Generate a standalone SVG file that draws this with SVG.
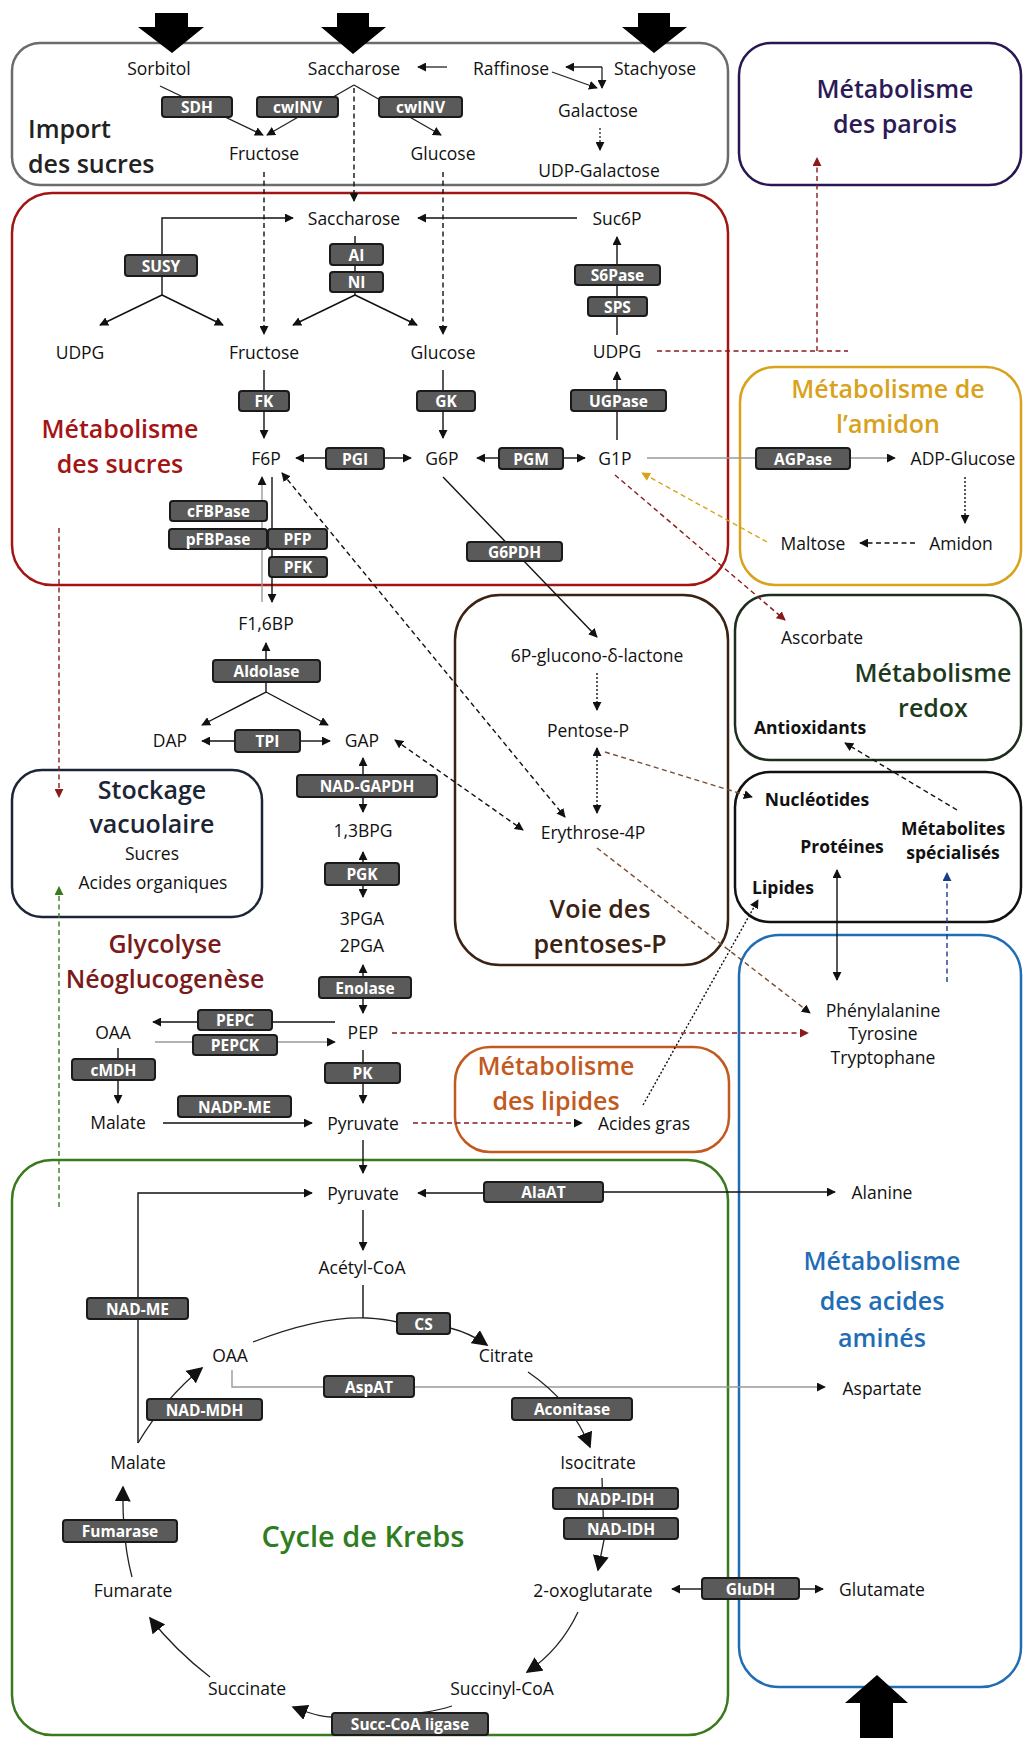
<svg xmlns="http://www.w3.org/2000/svg" width="1023" height="1738" viewBox="0 0 1023 1738">
<style>
text{font-family:"Open Sans","Liberation Sans",sans-serif;text-anchor:middle;dominant-baseline:central}
.t{font-size:17.5px;fill:#111}
.tb{font-size:17.5px;fill:#111;font-weight:700}
.h{font-size:25px;font-weight:600}
.et{font-size:15.5px;font-weight:700;fill:#fff}
.eb{fill:#5a5a5a;stroke:#1a1a1a;stroke-width:2}
.box{fill:none;stroke-width:2.5}
.c{fill:none;stroke:#111;stroke-width:1.4}
.k{fill:none;stroke:#222;stroke-width:1.3}
.dash{stroke-dasharray:5 3.5}
.dot{stroke-dasharray:2 2}
.red{stroke:#8b1a1a}
.gold{stroke:#d9a21b}
.brown{stroke:#7a4a2e}
.green{stroke:#3a7a1e}
.blue{stroke:#1a3a8a}
.gray{stroke:#9a9a9a}
</style>
<defs>
<marker id="a" viewBox="0 0 10 10" refX="9" refY="5" markerWidth="9" markerHeight="9" markerUnits="userSpaceOnUse" orient="auto-start-reverse"><path d="M0,0L10,5L0,10z" fill="#111"/></marker>
<marker id="ak" viewBox="0 0 10 10" refX="9" refY="5" markerWidth="16" markerHeight="16" markerUnits="userSpaceOnUse" orient="auto-start-reverse"><path d="M0,0L10,5L0,10z" fill="#111"/></marker>
<marker id="ar" viewBox="0 0 10 10" refX="9" refY="5" markerWidth="9" markerHeight="9" markerUnits="userSpaceOnUse" orient="auto-start-reverse"><path d="M0,0L10,5L0,10z" fill="#8b1a1a"/></marker>
<marker id="ag" viewBox="0 0 10 10" refX="9" refY="5" markerWidth="9" markerHeight="9" markerUnits="userSpaceOnUse" orient="auto-start-reverse"><path d="M0,0L10,5L0,10z" fill="#d9a21b"/></marker>
<marker id="agr" viewBox="0 0 10 10" refX="9" refY="5" markerWidth="9" markerHeight="9" markerUnits="userSpaceOnUse" orient="auto-start-reverse"><path d="M0,0L10,5L0,10z" fill="#3a7a1e"/></marker>
<marker id="abl" viewBox="0 0 10 10" refX="9" refY="5" markerWidth="9" markerHeight="9" markerUnits="userSpaceOnUse" orient="auto-start-reverse"><path d="M0,0L10,5L0,10z" fill="#1a3a8a"/></marker>
<linearGradient id="eg" x1="0" y1="0" x2="0" y2="1"><stop offset="0" stop-color="#4a4a4a"/><stop offset="0.5" stop-color="#6a6a6a"/><stop offset="1" stop-color="#4a4a4a"/></linearGradient>
</defs>
<rect width="1023" height="1738" fill="#fff"/>

<g id="regions">
<rect id="r-import" class="box" x="12" y="43" width="716" height="142" rx="28" stroke="#6b6b6b" stroke-width="2"/>
<rect id="r-parois" class="box" x="739" y="43" width="282" height="142" rx="32" stroke="#2a1650"/>
<rect id="r-sucres" class="box" x="12" y="193" width="716" height="392" rx="40" stroke="#a31515"/>
<rect id="r-amidon" class="box" x="740" y="367" width="281" height="218" rx="35" stroke="#d8a21c"/>
<rect id="r-redox" class="box" x="735" y="595" width="286" height="165" rx="35" stroke="#1e2e1e"/>
<rect id="r-autres" class="box" x="735" y="772" width="286" height="150" rx="35" stroke="#111" stroke-width="3"/>
<rect id="r-pentoses" class="box" x="455" y="595" width="273" height="370" rx="45" stroke="#3b2212"/>
<rect id="r-lipides" class="box" x="455" y="1047" width="274" height="105" rx="35" stroke="#c25a1f"/>
<rect id="r-stockage" class="box" x="12" y="770" width="250" height="147" rx="30" stroke="#1b2535"/>
<rect id="r-aa" class="box" x="739" y="935" width="282" height="752" rx="40" stroke="#1f6db5"/>
<rect id="r-krebs" class="box" x="12" y="1160" width="716" height="575" rx="40" stroke="#3a7a1e"/>
</g>

<g id="inputs" fill="#000">
<polygon points="155,13 188,13 188,27 204,27 172,53 138,27 155,27"/>
<polygon points="337,13 369,13 369,27 386,27 353,54 321,27 337,27"/>
<polygon points="638,13 670,13 670,27 687,27 654,53 622,27 638,27"/>
<polygon points="860,1738 893,1738 893,1703 908,1703 877,1675 845,1703 860,1703"/>
</g>

<g id="connectors">
<path class="k" d="M160,86L263,135" marker-end="url(#a)"/>
<path class="k" d="M354,85L267,135" marker-end="url(#a)"/>
<path class="k" d="M354,85L441,135" marker-end="url(#a)"/>
<path class="k" d="M447,67L418,67" marker-end="url(#a)"/>
<path class="k" d="M602,67L566,67" marker-end="url(#a)"/>
<path class="k" d="M602,67L602,88" marker-end="url(#a)"/>
<path class="k" d="M552,72L597,88" marker-end="url(#a)"/>
<path class="k dot" d="M600,128L600,150" marker-end="url(#a)"/>
<path class="c dash" d="M354,88L354,201" marker-end="url(#a)"/>
<path class="c dash" d="M264,172L264,334" marker-end="url(#a)"/>
<path class="c dash" d="M443,172L443,334" marker-end="url(#a)"/>
<path class="c" d="M162,295L162,218L293,218" marker-end="url(#a)"/>
<path class="c" d="M162,295L100,325" marker-end="url(#a)"/>
<path class="c" d="M162,295L223,325" marker-end="url(#a)"/>
<path class="c" d="M577,218L418,218" marker-end="url(#a)"/>
<path class="c" d="M355,236L355,295"/>
<path class="c" d="M355,295L293,325" marker-end="url(#a)"/>
<path class="c" d="M355,295L417,325" marker-end="url(#a)"/>
<path class="c" d="M264,370L264,438" marker-end="url(#a)"/>
<path class="c" d="M443,370L443,438" marker-end="url(#a)"/>
<path class="c" d="M326,458L296,458" marker-end="url(#a)"/>
<path class="c" d="M384,458L411,458" marker-end="url(#a)"/>
<path class="c" d="M499,458L477,458" marker-end="url(#a)"/>
<path class="c" d="M563,458L585,458" marker-end="url(#a)"/>
<path class="c" d="M617,440L617,372" marker-end="url(#a)"/>
<path class="c" d="M617,335L617,237" marker-end="url(#a)"/>
<path class="c dash red" d="M657,351L848,351"/>
<path class="c dash red" d="M817,351L817,158" marker-end="url(#ar)"/>
<path class="c gray" stroke-width="2" d="M647,458L895,458" marker-end="url(#a)"/>
<path class="c dot" d="M965,477L965,523" marker-end="url(#a)"/>
<path class="c dash" d="M915,543L860,543" marker-end="url(#a)"/>
<path class="c dash gold" stroke-width="1.8" d="M767,542L642,473" marker-end="url(#ag)"/>
<path class="c dash red" stroke-width="1.8" d="M615,475L785,620" marker-end="url(#ar)"/>
<path class="c" stroke-width="1.6" d="M443,477L597,637" marker-end="url(#a)"/>
<path class="c dash" stroke-width="1.8" d="M282,473L565,817" marker-start="url(#a)" marker-end="url(#a)"/>
<path class="c dash" stroke-width="1.8" d="M395,740L523,830" marker-start="url(#a)" marker-end="url(#a)"/>
<path class="c dot" d="M597,673L597,710" marker-end="url(#a)"/>
<path class="c dot" d="M597,748L597,813" marker-start="url(#a)" marker-end="url(#a)"/>
<path class="c dash brown" stroke-width="1.8" d="M605,752L752,797" marker-end="url(#a)"/>
<path class="c dash brown" stroke-width="1.8" d="M597,848L810,1013" marker-end="url(#a)"/>
<path class="c dash" stroke-width="1.6" d="M957,810L845,743" marker-end="url(#a)"/>
<path class="c" stroke-width="2" d="M837,870L837,980" marker-start="url(#a)" marker-end="url(#a)"/>
<path class="c dash blue" stroke-width="1.6" d="M947,982L947,873" marker-end="url(#abl)"/>
<path class="c dot" stroke="#666" stroke-width="1.2" d="M643,1105L758,900" marker-end="url(#a)"/>
<path class="c dash red" stroke-width="1.8" d="M392,1033L808,1033" marker-end="url(#ar)"/>
<path class="c dash red" stroke-width="1.8" d="M413,1123L582,1123" marker-end="url(#a)"/>
<path class="c" d="M272,477L272,602" marker-end="url(#a)"/>
<path class="c gray" stroke-width="2" d="M262,602L262,477" marker-end="url(#a)"/>
<path class="c" d="M266,660L266,643" marker-end="url(#a)"/>
<path class="c" d="M266,682L266,692L202,725" marker-end="url(#a)"/>
<path class="c" d="M266,692L328,725" marker-end="url(#a)"/>
<path class="c" d="M235,741L202,741" marker-end="url(#a)"/>
<path class="c" d="M300,741L330,741" marker-end="url(#a)"/>
<path class="c" d="M363,775L363,758" marker-end="url(#a)"/>
<path class="c" d="M363,797L363,812" marker-end="url(#a)"/>
<path class="c" d="M363,863L363,852" marker-end="url(#a)"/>
<path class="c" d="M363,885L363,897" marker-end="url(#a)"/>
<path class="c" d="M363,977L363,965" marker-end="url(#a)"/>
<path class="c" d="M363,998L363,1013" marker-end="url(#a)"/>
<path class="c" d="M335,1022L153,1022" marker-end="url(#a)"/>
<path class="c gray" stroke-width="1.6" d="M155,1042L335,1042" marker-end="url(#a)"/>
<path class="c" d="M118,1048L118,1103" marker-end="url(#a)"/>
<path class="c" d="M163,1123L312,1123" marker-end="url(#a)"/>
<path class="c" d="M363,1050L363,1103" marker-end="url(#a)"/>
<path class="c" d="M363,1140L363,1173" marker-end="url(#a)"/>
<path class="c" d="M363,1210L363,1250" marker-end="url(#a)"/>
<path class="c" d="M484,1193L418,1193" marker-end="url(#a)"/>
<path class="c" d="M603,1192L835,1192" marker-end="url(#a)"/>
<path class="c" d="M138,1443L138,1193L312,1193" marker-end="url(#a)"/>
<path class="c dash red" stroke-width="1.8" d="M59,528L59,797" marker-end="url(#ar)"/>
<path class="c dash green" stroke-width="1.8" d="M59,1207L59,887" marker-end="url(#agr)"/>
<path class="c" d="M363,1285L363,1318"/>
<path class="k" d="M253,1342Q320,1316 367,1318Q385,1319 397,1322"/>
<path class="k" d="M450,1328Q470,1333 487,1345" marker-end="url(#ak)"/>
<path class="c gray" stroke="#777" d="M232,1370L232,1387L825,1387" marker-end="url(#a)"/>
<path class="k" d="M528,1372Q572,1402 590,1447" marker-end="url(#ak)"/>
<path class="k" d="M602,1478L604,1540L598,1570" marker-end="url(#ak)"/>
<path class="k" d="M578,1612Q560,1650 527,1672" marker-end="url(#ak)"/>
<path class="k" d="M452,1706Q440,1710 420,1713"/>
<path class="k" d="M332,1717Q318,1717 293,1707" marker-end="url(#ak)"/>
<path class="k" d="M210,1677Q175,1650 150,1618" marker-end="url(#ak)"/>
<path class="k" d="M132,1577Q122,1540 123,1487" marker-end="url(#ak)"/>
<path class="k" d="M138,1443Q165,1398 202,1368" marker-end="url(#ak)"/>
<path class="c" d="M672,1589L702,1589" marker-start="url(#a)"/>
<path class="c" d="M799,1589L823,1589" marker-end="url(#a)"/>
</g>

<g id="headings">
<text class="h" x="28" y="128" fill="#222" style="text-anchor:start">Import</text>
<text class="h" x="28" y="163" fill="#222" style="text-anchor:start">des sucres</text>
<text class="h" x="895" y="88" fill="#2b1a55">Métabolisme</text>
<text class="h" x="895" y="123" fill="#2b1a55">des parois</text>
<text class="h" x="120" y="428" fill="#a31515">Métabolisme</text>
<text class="h" x="120" y="463" fill="#a31515">des sucres</text>
<text class="h" x="888" y="388" fill="#d8a21c">Métabolisme de</text>
<text class="h" x="888" y="423" fill="#d8a21c">l’amidon</text>
<text class="h" x="933" y="672" fill="#1e3a1e">Métabolisme</text>
<text class="h" x="933" y="707" fill="#1e3a1e">redox</text>
<text class="h" x="600" y="908" fill="#3b2212">Voie des</text>
<text class="h" x="600" y="943" fill="#3b2212">pentoses-P</text>
<text class="h" x="152" y="789" fill="#1b2535">Stockage</text>
<text class="h" x="152" y="823" fill="#1b2535">vacuolaire</text>
<text class="h" x="165" y="943" fill="#7a1a1a">Glycolyse</text>
<text class="h" x="165" y="978" fill="#7a1a1a">Néoglucogenèse</text>
<text class="h" x="556" y="1065" fill="#c25a1f">Métabolisme</text>
<text class="h" x="556" y="1100" fill="#c25a1f">des lipides</text>
<text class="h" x="882" y="1260" fill="#1f6db5">Métabolisme</text>
<text class="h" x="882" y="1300" fill="#1f6db5">des acides</text>
<text class="h" x="882" y="1337" fill="#1f6db5">aminés</text>
<text class="h" x="363" y="1535" fill="#2e7d1e" style="font-size:29px">Cycle de Krebs</text>
</g>

<g id="metabolites">
<g id="n-sorbitol"><text class="t" x="159" y="68">Sorbitol</text></g>
<g id="n-saccharose-imp"><text class="t" x="354" y="68">Saccharose</text></g>
<g id="n-raffinose"><text class="t" x="511" y="68">Raffinose</text></g>
<g id="n-stachyose"><text class="t" x="655" y="68">Stachyose</text></g>
<g id="n-galactose"><text class="t" x="598" y="110">Galactose</text></g>
<g id="n-udpgal"><text class="t" x="599" y="170">UDP-Galactose</text></g>
<g id="n-fructose-imp"><text class="t" x="264" y="153">Fructose</text></g>
<g id="n-glucose-imp"><text class="t" x="443" y="153">Glucose</text></g>
<g id="n-saccharose"><text class="t" x="354" y="218">Saccharose</text></g>
<g id="n-suc6p"><text class="t" x="617" y="218">Suc6P</text></g>
<g id="n-udpg1"><text class="t" x="80" y="352">UDPG</text></g>
<g id="n-fructose"><text class="t" x="264" y="352">Fructose</text></g>
<g id="n-glucose"><text class="t" x="443" y="352">Glucose</text></g>
<g id="n-udpg2"><text class="t" x="617" y="351">UDPG</text></g>
<g id="n-f6p"><text class="t" x="266" y="458">F6P</text></g>
<g id="n-g6p"><text class="t" x="442" y="458">G6P</text></g>
<g id="n-g1p"><text class="t" x="615" y="458">G1P</text></g>
<g id="n-adpglc"><text class="t" x="963" y="458">ADP-Glucose</text></g>
<g id="n-amidon"><text class="t" x="961" y="543">Amidon</text></g>
<g id="n-maltose"><text class="t" x="813" y="543">Maltose</text></g>
<g id="n-ascorbate"><text class="t" x="822" y="637">Ascorbate</text></g>
<g id="n-antiox"><text class="tb" x="810" y="727">Antioxidants</text></g>
<g id="n-nucleotides"><text class="tb" x="817" y="799">Nucléotides</text></g>
<g id="n-proteines"><text class="tb" x="842" y="846">Protéines</text></g>
<g id="n-metspe"><text class="tb" x="953" y="828">Métabolites</text><text class="tb" x="953" y="852">spécialisés</text></g>
<g id="n-lipides"><text class="tb" x="783" y="887">Lipides</text></g>
<g id="n-6pgl"><text class="t" x="597" y="655">6P-glucono-δ-lactone</text></g>
<g id="n-pentosep"><text class="t" x="588" y="730">Pentose-P</text></g>
<g id="n-e4p"><text class="t" x="593" y="832">Erythrose-4P</text></g>
<g id="n-f16bp"><text class="t" x="266" y="623">F1,6BP</text></g>
<g id="n-dap"><text class="t" x="170" y="740">DAP</text></g>
<g id="n-gap"><text class="t" x="362" y="740">GAP</text></g>
<g id="n-13bpg"><text class="t" x="363" y="830">1,3BPG</text></g>
<g id="n-3pga"><text class="t" x="362" y="918">3PGA</text></g>
<g id="n-2pga"><text class="t" x="362" y="945">2PGA</text></g>
<g id="n-pep"><text class="t" x="363" y="1032">PEP</text></g>
<g id="n-oaa1"><text class="t" x="113" y="1032">OAA</text></g>
<g id="n-malate1"><text class="t" x="118" y="1122">Malate</text></g>
<g id="n-pyr1"><text class="t" x="363" y="1123">Pyruvate</text></g>
<g id="n-pyr2"><text class="t" x="363" y="1193">Pyruvate</text></g>
<g id="n-acoa"><text class="t" x="362" y="1267">Acétyl-CoA</text></g>
<g id="n-sucres"><text class="t" x="152" y="853">Sucres</text></g>
<g id="n-acorg"><text class="t" x="153" y="882">Acides organiques</text></g>
<g id="n-acgras"><text class="t" x="644" y="1123">Acides gras</text></g>
<g id="n-aromatiques"><text class="t" x="883" y="1010">Phénylalanine</text><text class="t" x="883" y="1033">Tyrosine</text><text class="t" x="883" y="1057">Tryptophane</text></g>
<g id="n-alanine"><text class="t" x="882" y="1192">Alanine</text></g>
<g id="n-aspartate"><text class="t" x="882" y="1388">Aspartate</text></g>
<g id="n-glutamate"><text class="t" x="882" y="1589">Glutamate</text></g>
<g id="n-oaa2"><text class="t" x="230" y="1355">OAA</text></g>
<g id="n-citrate"><text class="t" x="506" y="1355">Citrate</text></g>
<g id="n-malate2"><text class="t" x="138" y="1462">Malate</text></g>
<g id="n-isocitrate"><text class="t" x="598" y="1462">Isocitrate</text></g>
<g id="n-fumarate"><text class="t" x="133" y="1590">Fumarate</text></g>
<g id="n-2og"><text class="t" x="593" y="1590">2-oxoglutarate</text></g>
<g id="n-succinate"><text class="t" x="247" y="1688">Succinate</text></g>
<g id="n-succoa"><text class="t" x="502" y="1688">Succinyl-CoA</text></g>
</g>

<g id="enzymes">
<g id="e-sdh"><rect class="eb" fill="url(#eg)" x="162" y="97" width="70" height="20" rx="3"/><text class="et" x="197" y="107">SDH</text></g>
<g id="e-cwinv1"><rect class="eb" fill="url(#eg)" x="257" y="97" width="81" height="20" rx="3"/><text class="et" x="297.5" y="107">cwINV</text></g>
<g id="e-cwinv2"><rect class="eb" fill="url(#eg)" x="379" y="97" width="83" height="20" rx="3"/><text class="et" x="420.5" y="107">cwINV</text></g>
<g id="e-susy"><rect class="eb" fill="url(#eg)" x="125" y="255" width="72" height="21" rx="3"/><text class="et" x="161" y="265.5">SUSY</text></g>
<g id="e-ai"><rect class="eb" fill="url(#eg)" x="330" y="244" width="53" height="21" rx="3"/><text class="et" x="356.5" y="254.5">AI</text></g>
<g id="e-ni"><rect class="eb" fill="url(#eg)" x="330" y="272" width="53" height="20" rx="3"/><text class="et" x="356.5" y="282">NI</text></g>
<g id="e-s6pase"><rect class="eb" fill="url(#eg)" x="575" y="265" width="85" height="20" rx="3"/><text class="et" x="617.5" y="275">S6Pase</text></g>
<g id="e-sps"><rect class="eb" fill="url(#eg)" x="588" y="297" width="59" height="19" rx="3"/><text class="et" x="617.5" y="306.5">SPS</text></g>
<g id="e-fk"><rect class="eb" fill="url(#eg)" x="239" y="391" width="50" height="20" rx="3"/><text class="et" x="264" y="401">FK</text></g>
<g id="e-gk"><rect class="eb" fill="url(#eg)" x="417" y="391" width="58" height="20" rx="3"/><text class="et" x="446" y="401">GK</text></g>
<g id="e-ugpase"><rect class="eb" fill="url(#eg)" x="571" y="390" width="95" height="21" rx="3"/><text class="et" x="618.5" y="400.5">UGPase</text></g>
<g id="e-pgi"><rect class="eb" fill="url(#eg)" x="326" y="448" width="58" height="21" rx="3"/><text class="et" x="355" y="458.5">PGI</text></g>
<g id="e-pgm"><rect class="eb" fill="url(#eg)" x="499" y="448" width="64" height="21" rx="3"/><text class="et" x="531" y="458.5">PGM</text></g>
<g id="e-agpase"><rect class="eb" fill="url(#eg)" x="756" y="448" width="94" height="21" rx="3"/><text class="et" x="803" y="458.5">AGPase</text></g>
<g id="e-cfbpase"><rect class="eb" fill="url(#eg)" x="170" y="501" width="97" height="20" rx="3"/><text class="et" x="218.5" y="511">cFBPase</text></g>
<g id="e-pfbpase"><rect class="eb" fill="url(#eg)" x="169" y="529" width="98" height="20" rx="3"/><text class="et" x="218" y="539">pFBPase</text></g>
<g id="e-pfp"><rect class="eb" fill="url(#eg)" x="268" y="529" width="59" height="20" rx="3"/><text class="et" x="297.5" y="539">PFP</text></g>
<g id="e-pfk"><rect class="eb" fill="url(#eg)" x="269" y="557" width="58" height="20" rx="3"/><text class="et" x="298" y="567">PFK</text></g>
<g id="e-g6pdh"><rect class="eb" fill="url(#eg)" x="467" y="542" width="95" height="19" rx="3"/><text class="et" x="514.5" y="551.5">G6PDH</text></g>
<g id="e-aldolase"><rect class="eb" fill="url(#eg)" x="213" y="660" width="107" height="22" rx="3"/><text class="et" x="266.5" y="671">Aldolase</text></g>
<g id="e-tpi"><rect class="eb" fill="url(#eg)" x="235" y="730" width="65" height="22" rx="3"/><text class="et" x="267.5" y="741">TPI</text></g>
<g id="e-gapdh"><rect class="eb" fill="url(#eg)" x="297" y="775" width="140" height="22" rx="3"/><text class="et" x="367" y="786">NAD-GAPDH</text></g>
<g id="e-pgk"><rect class="eb" fill="url(#eg)" x="325" y="863" width="74" height="22" rx="3"/><text class="et" x="362" y="874">PGK</text></g>
<g id="e-enolase"><rect class="eb" fill="url(#eg)" x="319" y="977" width="92" height="21" rx="3"/><text class="et" x="365" y="987.5">Enolase</text></g>
<g id="e-pepc"><rect class="eb" fill="url(#eg)" x="198" y="1010" width="74" height="20" rx="3"/><text class="et" x="235" y="1020">PEPC</text></g>
<g id="e-pepck"><rect class="eb" fill="url(#eg)" x="193" y="1035" width="84" height="20" rx="3"/><text class="et" x="235" y="1045">PEPCK</text></g>
<g id="e-cmdh"><rect class="eb" fill="url(#eg)" x="72" y="1059" width="83" height="21" rx="3"/><text class="et" x="113.5" y="1069.5">cMDH</text></g>
<g id="e-pk"><rect class="eb" fill="url(#eg)" x="325" y="1063" width="75" height="20" rx="3"/><text class="et" x="362.5" y="1073">PK</text></g>
<g id="e-nadpme"><rect class="eb" fill="url(#eg)" x="178" y="1096" width="113" height="21" rx="3"/><text class="et" x="234.5" y="1106.5">NADP-ME</text></g>
<g id="e-alaat"><rect class="eb" fill="url(#eg)" x="484" y="1182" width="119" height="20" rx="3"/><text class="et" x="543.5" y="1192">AlaAT</text></g>
<g id="e-nadme"><rect class="eb" fill="url(#eg)" x="87" y="1298" width="101" height="21" rx="3"/><text class="et" x="137.5" y="1308.5">NAD-ME</text></g>
<g id="e-cs"><rect class="eb" fill="url(#eg)" x="397" y="1313" width="53" height="21" rx="3"/><text class="et" x="423.5" y="1323.5">CS</text></g>
<g id="e-aspat"><rect class="eb" fill="url(#eg)" x="324" y="1376" width="90" height="21" rx="3"/><text class="et" x="369" y="1386.5">AspAT</text></g>
<g id="e-aconitase"><rect class="eb" fill="url(#eg)" x="512" y="1398" width="120" height="22" rx="3"/><text class="et" x="572" y="1409">Aconitase</text></g>
<g id="e-nadmdh"><rect class="eb" fill="url(#eg)" x="147" y="1399" width="115" height="21" rx="3"/><text class="et" x="204.5" y="1409.5">NAD-MDH</text></g>
<g id="e-nadpidh"><rect class="eb" fill="url(#eg)" x="553" y="1488" width="125" height="21" rx="3"/><text class="et" x="615.5" y="1498.5">NADP-IDH</text></g>
<g id="e-nadidh"><rect class="eb" fill="url(#eg)" x="564" y="1518" width="114" height="21" rx="3"/><text class="et" x="621" y="1528.5">NAD-IDH</text></g>
<g id="e-fumarase"><rect class="eb" fill="url(#eg)" x="63" y="1520" width="114" height="22" rx="3"/><text class="et" x="120" y="1531">Fumarase</text></g>
<g id="e-gludh"><rect class="eb" fill="url(#eg)" x="702" y="1578" width="97" height="21" rx="3"/><text class="et" x="750.5" y="1588.5">GluDH</text></g>
<g id="e-succoalig"><rect class="eb" fill="url(#eg)" x="332" y="1713" width="156" height="22" rx="3"/><text class="et" x="410" y="1724">Succ-CoA ligase</text></g>
</g>
</svg>
